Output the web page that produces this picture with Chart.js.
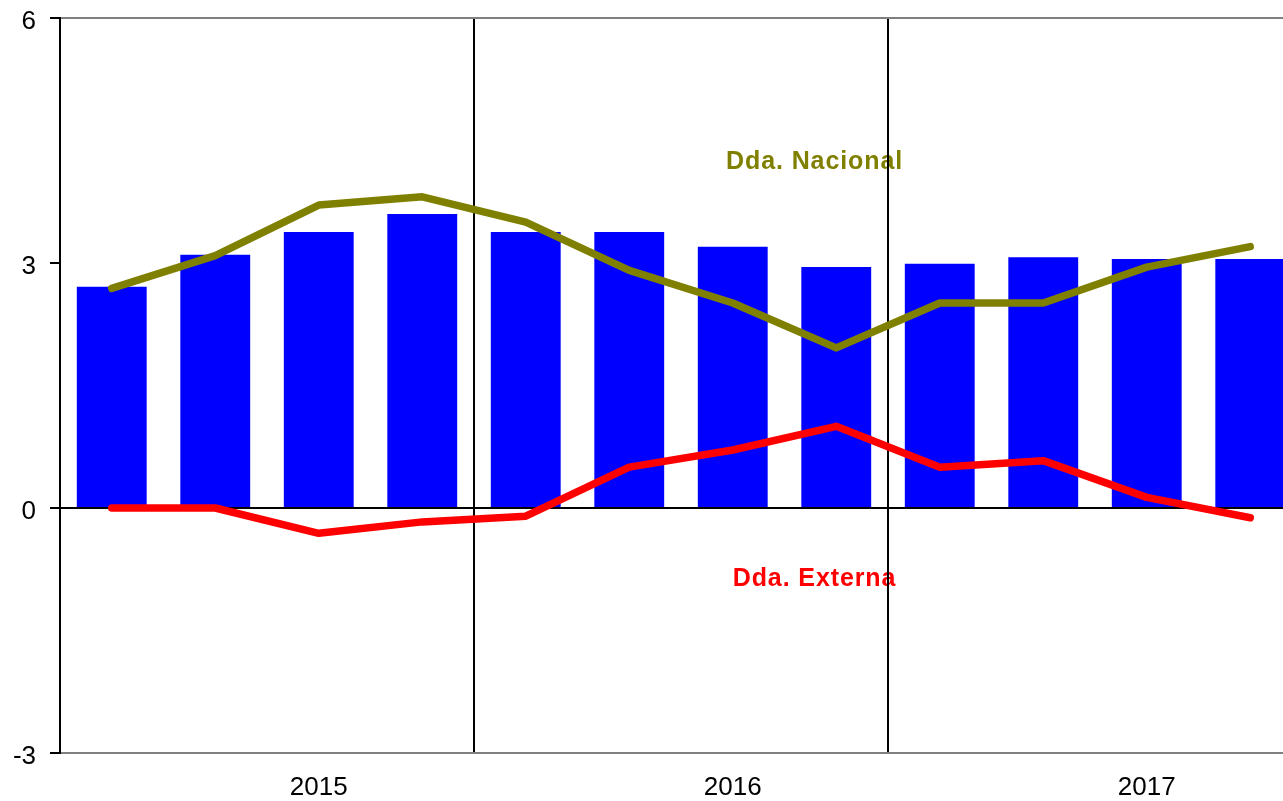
<!DOCTYPE html>
<html>
<head>
<meta charset="utf-8">
<script src="https://cdn.jsdelivr.net/npm/chart.js@4/dist/chart.umd.min.js"></script>
<style>
  html, body { margin: 0; padding: 0; background: #fff; overflow: hidden; }
  #wrap { width: 1302px; height: 801px; }
</style>
</head>
<body>
<div id="wrap"><canvas id="myChart"></canvas></div>
<script>
// trimestres 2015-2017, etiqueta del año en el 3er trimestre
const trimestres = ["", "", "2015", "", "", "", "2016", "", "", "", "2017", ""];
const pibTotal = [2.71, 3.10, 3.38, 3.60, 3.38, 3.38, 3.20, 2.95, 2.99, 3.07, 3.05, 3.05];
const ddaNacional = [2.69, 3.09, 3.71, 3.81, 3.50, 2.91, 2.51, 1.96, 2.51, 2.51, 2.95, 3.20];
const ddaExterna = [0, 0, -0.31, -0.17, -0.10, 0.50, 0.71, 1.00, 0.50, 0.58, 0.13, -0.12];
const yTicks = [-3, 0, 3, 6];

const FONT = "'Liberation Sans', Arial, sans-serif";

// rótulos de las series dentro del gráfico
const seriesLabels = {
  id: "seriesLabels",
  beforeDraw(chart) {
    const ctx = chart.ctx;
    const x = chart.scales.x;
    const y = chart.scales.y;
    const items = [
      { text: "Dda. Nacional", color: "#808000", xv: 6.79, yv: 4.24 },
      { text: "Dda. Externa", color: "#FF0000", xv: 6.79, yv: -0.87 },
    ];
    ctx.save();
    ctx.font = "bold 25px " + FONT;
    ctx.letterSpacing = "0.9px";
    ctx.textAlign = "center";
    ctx.textBaseline = "middle";
    items.forEach((it) => {
      ctx.fillStyle = it.color;
      ctx.fillText(it.text, x.getPixelForValue(it.xv), y.getPixelForValue(it.yv));
    });
    ctx.restore();
  },
  // linea del cero encima de las barras, debajo de las lineas
  afterDatasetDraw(chart, args) {
    if (args.index !== 0) return;
    const ctx = chart.ctx;
    const y0 = chart.scales.y.getPixelForValue(0);
    ctx.save();
    ctx.strokeStyle = "#000";
    ctx.lineWidth = 2;
    ctx.beginPath();
    ctx.moveTo(chart.chartArea.left, y0);
    ctx.lineTo(chart.chartArea.right, y0);
    ctx.stroke();
    ctx.restore();
  },
};

const data = {
  labels: trimestres,
  datasets: [
    {
      type: "bar",
      label: "PIB",
      data: pibTotal,
      backgroundColor: "#0000FF",
      borderWidth: 0,
      barPercentage: 0.675,
      categoryPercentage: 1,
      order: 3,
    },
    {
      type: "line",
      label: "Dda. Nacional",
      data: ddaNacional,
      borderColor: "#808000",
      borderWidth: 7.5,
      pointRadius: 0,
      tension: 0,
      borderCapStyle: "round",
      borderJoinStyle: "round",
      order: 2,
    },
    {
      type: "line",
      label: "Dda. Externa",
      data: ddaExterna,
      borderColor: "#FF0000",
      borderWidth: 7.5,
      pointRadius: 0,
      tension: 0,
      borderCapStyle: "round",
      borderJoinStyle: "round",
      order: 1,
    },
  ],
};

const config = {
  type: "bar",
  data,
  plugins: [seriesLabels],
  options: {
    responsive: true,
    maintainAspectRatio: false,
    animation: false,
    layout: { padding: { top: 18, right: 0, left: 0, bottom: 0 } },
    plugins: {
      legend: { display: false },
      tooltip: { enabled: false },
    },
    scales: {
      x: {
        offset: true,
        afterFit(scale) {
          scale.height = 48;
          scale.paddingLeft = 0;
          scale.paddingRight = 0;
        },
        border: { display: false },
        grid: {
          offset: true,
          drawTicks: false,
          lineWidth: 2,
          color: (c) => (c.index === 4 || c.index === 8 ? "#000" : "rgba(0,0,0,0)"),
        },
        ticks: {
          autoSkip: false,
          maxRotation: 0,
          padding: 19,
          color: "#000",
          font: { family: FONT, size: 26 },
        },
      },
      y: {
        min: -3,
        max: 6,
        afterFit(scale) {
          scale.width = 60;
          scale.paddingTop = 0;
          scale.paddingBottom = 0;
        },
        afterBuildTicks(scale) { scale.ticks = yTicks.map((v) => ({ value: v })); },
        border: { display: true, color: "#000", width: 2 },
        grid: {
          lineWidth: 2,
          tickLength: 10,
          tickColor: "#000",
          color: (c) => {
            const v = c.tick ? c.tick.value : null;
            if (v === 0) return "#000";
            if (v === 6 || v === -3) return "#808080";
            return "rgba(0,0,0,0)";
          },
        },
        ticks: {
          padding: 14,
          labelOffset: 4,
          color: "#000",
          font: { family: FONT, size: 26 },
        },
      },
    },
  },
};

new Chart(document.getElementById("myChart"), config);
</script>
</body>
</html>
